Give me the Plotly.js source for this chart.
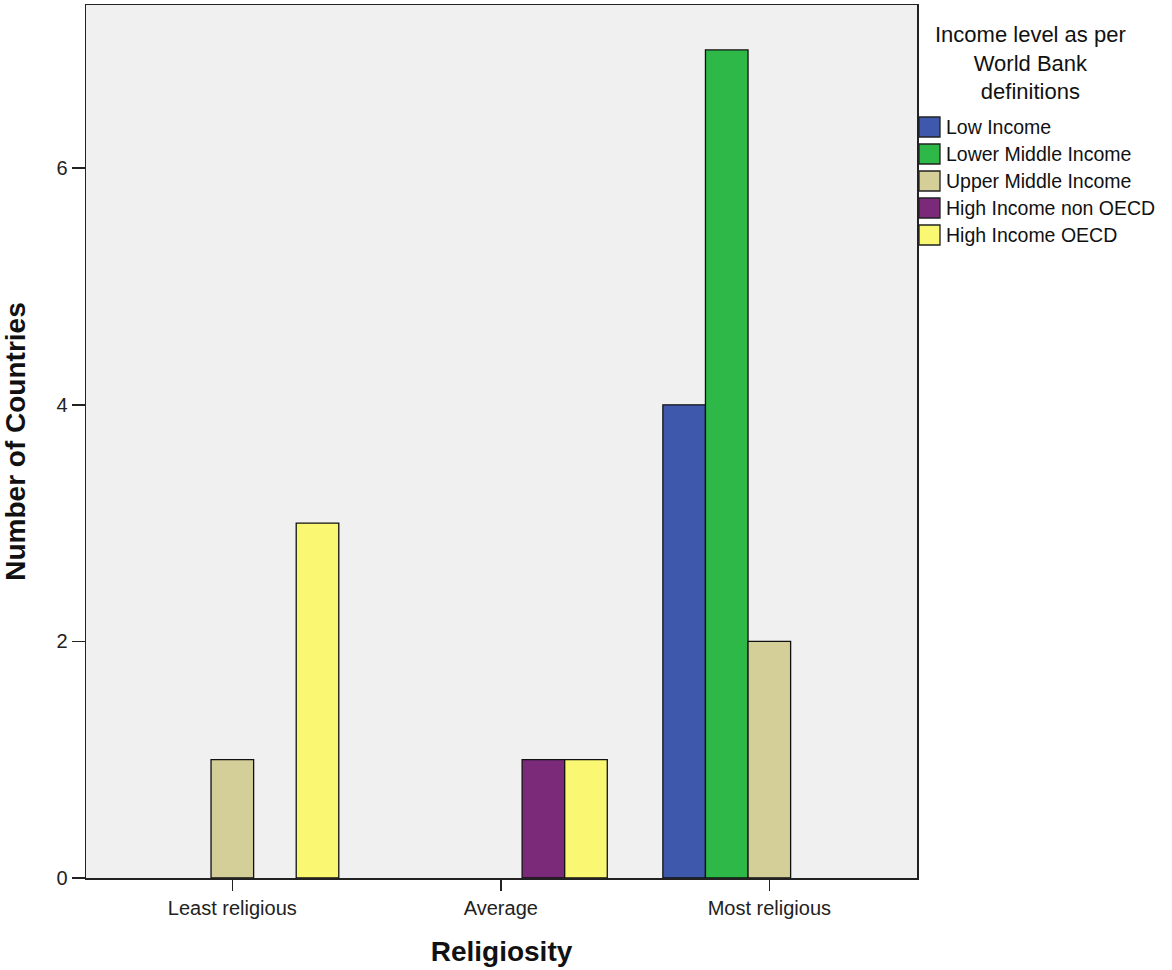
<!DOCTYPE html>
<html>
<head>
<meta charset="utf-8">
<script src="https://cdn.plot.ly/plotly-3.0.1.min.js"></script>
<style>html,body{margin:0;padding:0;background:#fff;}#chart{width:1172px;height:970px;}</style>
</head>
<body>
<div id="chart"></div>
<script>
const categories = ["Least religious", "Average", "Most religious"];
const seriesNames = ["Low Income", "Lower Middle Income", "Upper Middle Income", "High Income non OECD", "High Income OECD"];
const lowIncome = [0, 0, 4];
const lowerMiddleIncome = [0, 0, 7];
const upperMiddleIncome = [1, 0, 2];
const highIncomeNonOECD = [0, 1, 0];
const highIncomeOECD = [3, 1, 0];
const yTicks = [0, 2, 4, 6];
const legendTitle = "Income level as per<br>World Bank<br>definitions";
const colors = ["#3E58AC", "#2EB848", "#D4CE98", "#7B2A7A", "#FAF772"];

const seriesValues = [lowIncome, lowerMiddleIncome, upperMiddleIncome, highIncomeNonOECD, highIncomeOECD];
const FONT = "Liberation Sans, Arial, sans-serif";

// zero counts are drawn as no bar (slot kept by grouping)
const traces = seriesValues.map((vals, i) => ({
  type: "bar",
  name: seriesNames[i],
  x: categories,
  y: vals.map(v => (v === 0 ? null : v)),
  marker: { color: colors[i], line: { color: "#111", width: 1.3 } },
  hoverinfo: "x+y+name"
}));

// custom legend (larger square swatches like the reference)
const shapes = [];
const annotations = [];
const ITEM_TOP = 117, ITEM_STEP = 27, PLOT_TOP = 5, PLOT_H = 873;
seriesNames.forEach((name, i) => {
  const yc = ITEM_TOP + 10 + i * ITEM_STEP;     // pixel row center
  const yp = 1 - (yc - PLOT_TOP) / PLOT_H;      // paper y
  shapes.push({
    type: "rect", xref: "paper", yref: "paper",
    xsizemode: "pixel", ysizemode: "pixel",
    xanchor: 1, yanchor: yp,
    x0: 2, x1: 23, y0: -10, y1: 10,
    fillcolor: colors[i], line: { color: "#222", width: 1.3 }
  });
  annotations.push({
    xref: "paper", yref: "paper", x: 1, y: yp,
    xanchor: "left", yanchor: "middle", xshift: 27,
    text: name, showarrow: false,
    font: { size: 19.5, family: FONT, color: "#111" }
  });
});
annotations.push({
  xref: "paper", yref: "paper", x: 1, y: 1, xshift: 113, yshift: -15,
  xanchor: "center", yanchor: "top", align: "center",
  text: legendTitle, showarrow: false,
  font: { size: 22, family: FONT, color: "#111" }
});

const layout = {
  width: 1172, height: 970,
  margin: { l: 86, r: 255, t: 5, b: 92 },
  paper_bgcolor: "#ffffff",
  plot_bgcolor: "#F0F0F0",
  barmode: "group",
  bargap: 0.207,
  bargroupgap: 0,
  showlegend: false,
  font: { family: FONT, color: "#222", size: 20 },
  xaxis: {
    type: "category",
    range: [-0.545, 2.55],
    showline: true, linecolor: "#222", linewidth: 1.5, mirror: true,
    ticks: "outside", ticklen: 11, tickcolor: "#222", tickwidth: 1.5,
    tickfont: { size: 20, family: FONT, color: "#222" },
    showgrid: false, zeroline: false,
    title: { text: "<b>Religiosity</b>", font: { size: 28, family: FONT, color: "#111" }, standoff: 24 }
  },
  yaxis: {
    range: [0, 7.38],
    tickvals: yTicks,
    showline: true, linecolor: "#222", linewidth: 1.5, mirror: true,
    ticks: "outside", ticklen: 13, tickcolor: "#222", tickwidth: 1.5,
    tickfont: { size: 20, family: FONT, color: "#222" },
    showgrid: false, zeroline: false,
    title: { text: "<b>Number of Countries</b>", font: { size: 28, family: FONT, color: "#111" }, standoff: 28 }
  },
  shapes: shapes,
  annotations: annotations
};

Plotly.newPlot("chart", traces, layout, { displayModeBar: false, staticPlot: true });
</script>
</body>
</html>
